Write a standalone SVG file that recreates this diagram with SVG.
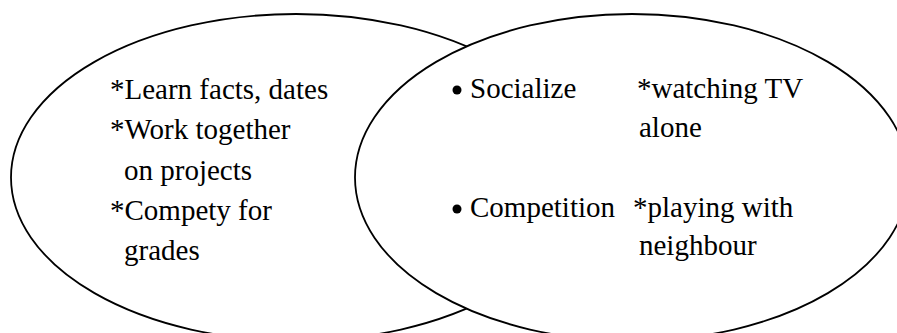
<svg xmlns="http://www.w3.org/2000/svg" width="897" height="333" viewBox="0 0 897 333">
<style>
.e{stroke:#000;stroke-width:1.8}
.t{font-family:"Liberation Serif","Times New Roman",serif;font-size:29px;fill:#000}
</style>
<rect width="897" height="333" fill="#fff"/>
<g id="left-circle">
<ellipse class="e" fill="none" cx="296" cy="177.5" rx="285" ry="163.5"/>
<text class="t" x="110" y="99">*Learn facts, dates</text>
<text class="t" x="110" y="139">*Work together</text>
<text class="t" x="124" y="180">on projects</text>
<text class="t" x="110" y="220">*Compety for</text>
<text class="t" x="124" y="260">grades</text>
</g>
<g id="right-circle">
<ellipse class="e" fill="#fff" cx="632" cy="177.5" rx="277" ry="163.5"/>
<circle cx="457" cy="90" r="4.5" fill="#000"/>
<text class="t" x="470" y="98">Socialize</text>
<text class="t" x="637" y="98">*watching TV</text>
<text class="t" x="639" y="137">alone</text>
<circle cx="457" cy="209" r="4.5" fill="#000"/>
<text class="t" x="470" y="217">Competition</text>
<text class="t" x="633" y="217">*playing with</text>
<text class="t" x="639" y="255">neighbour</text>
</g>
<g id="connectors"/>
</svg>
